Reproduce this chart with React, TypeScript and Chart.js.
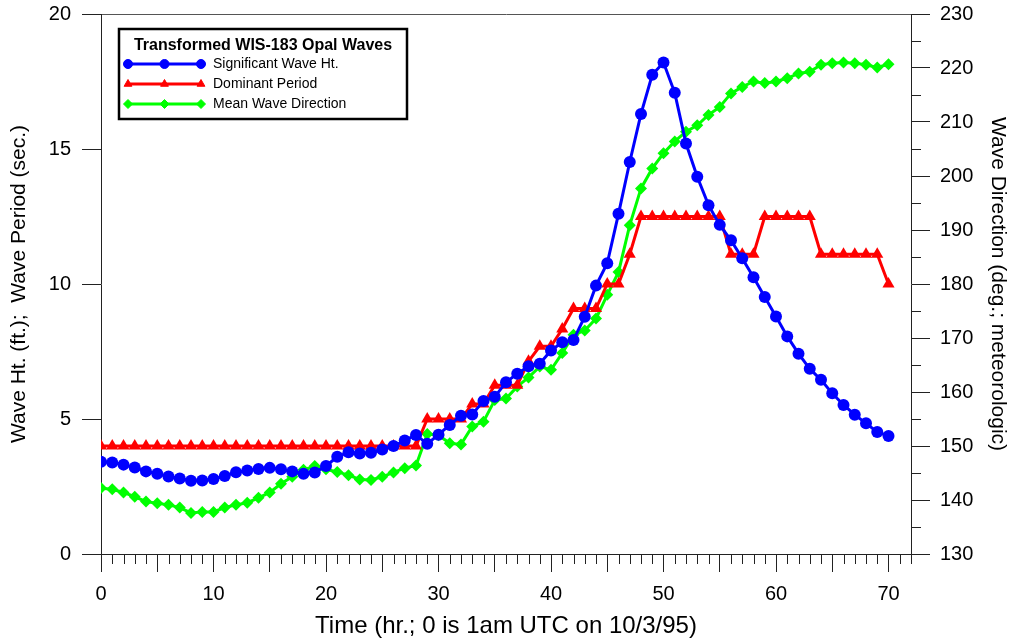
import { useEffect, useRef } from "react"
import { Chart, registerables } from "chart.js"
import { drawPoint } from "chart.js/helpers"

Chart.register(...registerables)

// hours since 1am UTC 10/3/95
const hours = [
  0, 1, 2, 3, 4, 5, 6, 7, 8, 9, 10, 11, 12, 13, 14, 15, 16, 17, 18, 19, 20,
  21, 22, 23, 24, 25, 26, 27, 28, 29, 30, 31, 32, 33, 34, 35, 36, 37, 38, 39, 40,
  41, 42, 43, 44, 45, 46, 47, 48, 49, 50, 51, 52, 53, 54, 55, 56, 57, 58, 59, 60,
  61, 62, 63, 64, 65, 66, 67, 68, 69, 70,
]

// significant wave height (ft.)
const waveHeight = [
  3.42, 3.39, 3.31, 3.2, 3.06, 2.97, 2.87, 2.8, 2.71, 2.72, 2.78,
  2.89, 3.03, 3.09, 3.15, 3.19, 3.14, 3.06, 2.97, 3.02, 3.26,
  3.6, 3.77, 3.72, 3.75, 3.87, 4.0, 4.2, 4.41, 4.08, 4.42,
  4.78, 5.12, 5.17, 5.67, 5.82, 6.36, 6.68, 6.95, 7.05, 7.54,
  7.84, 7.93, 8.79, 9.94, 10.77, 12.6, 14.52, 16.3, 17.75, 18.2,
  17.08, 15.2, 13.97, 12.92, 12.19, 11.62, 10.95, 10.25, 9.52, 8.8,
  8.06, 7.42, 6.86, 6.45, 5.95, 5.52, 5.16, 4.84, 4.52, 4.37,
]

// dominant period (sec.)
const dominantPeriod = [
  4.0, 4.0, 4.0, 4.0, 4.0, 4.0, 4.0, 4.0, 4.0, 4.0, 4.0,
  4.0, 4.0, 4.0, 4.0, 4.0, 4.0, 4.0, 4.0, 4.0, 4.0,
  4.0, 4.0, 4.0, 4.0, 4.0, 4.0, 4.0, 4.0, 5.0, 5.0,
  5.0, 5.0, 5.56, 5.56, 6.25, 6.25, 6.25, 7.14, 7.69, 7.69,
  8.33, 9.09, 9.09, 9.09, 10.0, 10.0, 11.1, 12.5, 12.5, 12.5,
  12.5, 12.5, 12.5, 12.5, 12.5, 11.1, 11.1, 11.1, 12.5, 12.5,
  12.5, 12.5, 12.5, 11.1, 11.1, 11.1, 11.1, 11.1, 11.1, 10.0,
]

// mean wave direction (deg., meteorologic)
const waveDirection = [
  142.2, 142.0, 141.4, 140.6, 139.7, 139.4, 139.1, 138.6, 137.6, 137.8, 137.8,
  138.6, 139.1, 139.5, 140.4, 141.4, 143.0, 144.3, 145.6, 146.3, 145.7,
  145.2, 144.6, 143.8, 143.7, 144.3, 145.1, 145.9, 146.4, 152.2, 152.0,
  150.5, 150.3, 153.6, 154.5, 158.5, 158.8, 161.0, 162.7, 164.7, 164.1,
  167.2, 170.6, 171.4, 173.6, 178.0, 182.2, 190.9, 197.7, 201.4, 204.2,
  206.4, 208.2, 209.4, 211.3, 212.8, 215.3, 216.5, 217.5, 217.2, 217.5,
  218.1, 219.0, 219.3, 220.6, 220.9, 221.0, 220.9, 220.6, 220.1, 220.7,
]

const seriesNames = ["Significant Wave Ht.", "Dominant Period", "Mean Wave Direction"]
const legendTitle = "Transformed WIS-183 Opal Waves"
const xTitle = "Time (hr.; 0 is 1am UTC on 10/3/95)"
const leftTitle = "Wave Ht. (ft.);  Wave Period (sec.)"
const rightTitle = "Wave Direction (deg.; meteorologic)"

const FONT = "'Liberation Sans', Arial, Helvetica, sans-serif"
const AXIS = "#222"
const TOPLINE = "#555"

// short minor ticks for the time axis and the direction axis
const minorTicks = {
  id: "minorTicks",
  afterDraw(chart: any) {
    const { ctx } = chart
    const xs = chart.scales.x
    const ys = chart.scales.y1
    ctx.save()
    ctx.strokeStyle = AXIS
    ctx.lineWidth = 1
    ctx.beginPath()
    xs.ticks.forEach((t: any) => {
      if (t.value % 5 === 0) return
      const px = Math.round(xs.getPixelForValue(t.value)) + 0.5
      ctx.moveTo(px, xs.top)
      ctx.lineTo(px, xs.top + 10)
    })
    ys.ticks.forEach((t: any) => {
      if (t.value % 10 === 0) return
      const py = Math.round(ys.getPixelForValue(t.value)) + 0.5
      ctx.moveTo(ys.left, py)
      ctx.lineTo(ys.left + 10, py)
    })
    ctx.stroke()
    ctx.restore()
  },
}

// boxed legend with a bold title, drawn inside the plot
const boxLegend = {
  id: "boxLegend",
  afterDraw(chart: any) {
    const { ctx } = chart
    const left = 119
    const top = 29
    const w = 288
    const h = 90
    ctx.save()
    ctx.fillStyle = "#fff"
    ctx.fillRect(left, top, w, h)
    ctx.lineWidth = 2.5
    ctx.strokeStyle = "#000"
    ctx.strokeRect(left, top, w, h)

    ctx.fillStyle = "#000"
    ctx.font = `bold 16px ${FONT}`
    ctx.textAlign = "center"
    ctx.textBaseline = "middle"
    ctx.fillText(legendTitle, left + w / 2, top + 17)

    chart.data.datasets.forEach((ds: any, i: number) => {
      const cy = top + 35 + i * 20
      ctx.strokeStyle = ds.borderColor
      ctx.fillStyle = ds.backgroundColor
      ctx.lineWidth = 3
      ctx.beginPath()
      ctx.moveTo(128, cy)
      ctx.lineTo(201, cy)
      ctx.stroke()
      ctx.lineWidth = 1
      ;[128, 164.5, 201].forEach((mx) => {
        drawPoint(ctx, { pointStyle: ds.pointStyle, radius: 4.5, rotation: 0, borderWidth: 1 }, mx, cy)
      })
      ctx.fillStyle = "#000"
      ctx.font = `14px ${FONT}`
      ctx.textAlign = "left"
      ctx.fillText(ds.label, 213, cy)
    })
    ctx.restore()
  },
}

export default function App() {
  const chartRef = useRef<HTMLCanvasElement>(null)
  const chartInstance = useRef<Chart | null>(null)

  useEffect(() => {
    if (!chartRef.current) return
    if (chartInstance.current) chartInstance.current.destroy()
    const ctx = chartRef.current.getContext("2d")
    if (!ctx) return

    const tickFont = { family: FONT, size: 20 }

    chartInstance.current = new Chart(ctx, {
      type: "line",
      data: {
        datasets: [
          {
            label: seriesNames[0],
            data: hours.map((h, i) => ({ x: h, y: waveHeight[i] })),
            yAxisID: "y",
            borderColor: "#0000ff",
            backgroundColor: "#0000ff",
            borderWidth: 3,
            pointStyle: "circle",
            pointRadius: 6,
            pointBorderWidth: 0,
          },
          {
            label: seriesNames[1],
            data: hours.map((h, i) => ({ x: h, y: dominantPeriod[i] })),
            yAxisID: "y",
            borderColor: "#ff0000",
            backgroundColor: "#ff0000",
            borderWidth: 3,
            pointStyle: "triangle",
            pointRadius: 7,
            pointBorderWidth: 0,
          },
          {
            label: seriesNames[2],
            data: hours.map((h, i) => ({ x: h, y: waveDirection[i] })),
            yAxisID: "y1",
            borderColor: "#00ff00",
            backgroundColor: "#00ff00",
            borderWidth: 3,
            pointStyle: "rectRot",
            pointRadius: 6,
            pointBorderWidth: 0,
          },
        ],
      },
      options: {
        animation: false,
        responsive: true,
        maintainAspectRatio: false,
        layout: { padding: { top: 14, left: 0, right: 0, bottom: 0 } },
        plugins: {
          legend: { display: false },
          tooltip: { enabled: false },
        },
        scales: {
          x: {
            type: "linear",
            position: "bottom",
            min: 0,
            max: 72,
            afterFit: (s: any) => {
              s.height = 90
              s.paddingLeft = 0
              s.paddingRight = 0
            },
            border: { color: AXIS, width: 1 },
            grid: {
              drawOnChartArea: false,
              tickLength: 18,
              tickColor: (c: any) => (c.tick && c.tick.value % 5 === 0 ? AXIS : "transparent"),
            },
            ticks: {
              stepSize: 1,
              autoSkip: false,
              maxRotation: 0,
              padding: 10,
              color: "#000",
              font: tickFont,
              callback: (v: any) => (v % 10 === 0 && v <= 70 ? String(v) : ""),
            },
            title: {
              display: true,
              text: xTitle,
              color: "#000",
              font: { family: FONT, size: 24 },
              padding: { top: 0, bottom: 3 },
            },
          },
          y: {
            type: "linear",
            position: "left",
            min: 0,
            max: 20,
            afterFit: (s: any) => {
              s.width = 101
              s.paddingTop = 0
              s.paddingBottom = 0
            },
            border: { color: AXIS, width: 1 },
            grid: {
              drawOnChartArea: true,
              color: (c: any) => (c.tick && c.tick.value === 20 ? TOPLINE : "transparent"),
              tickColor: AXIS,
              tickLength: 19,
            },
            ticks: { stepSize: 5, padding: 11, color: "#000", font: tickFont },
            title: {
              display: true,
              text: leftTitle,
              color: "#000",
              font: { family: FONT, size: 21 },
              padding: { top: 7, bottom: 0 },
            },
          },
          y1: {
            type: "linear",
            position: "right",
            min: 130,
            max: 230,
            afterFit: (s: any) => {
              s.width = 102
              s.paddingTop = 0
              s.paddingBottom = 0
            },
            border: { color: AXIS, width: 1 },
            grid: {
              drawOnChartArea: false,
              tickLength: 19,
              tickColor: (c: any) => (c.tick && c.tick.value % 10 === 0 ? AXIS : "transparent"),
            },
            ticks: {
              stepSize: 5,
              autoSkip: false,
              padding: 10,
              color: "#000",
              font: tickFont,
              callback: (v: any) => (v % 10 === 0 ? String(v) : ""),
            },
            title: {
              display: true,
              text: rightTitle,
              color: "#000",
              font: { family: FONT, size: 21 },
              padding: { top: 3, bottom: 0 },
            },
          },
        },
      },
      plugins: [minorTicks, boxLegend],
    })

    return () => {
      if (chartInstance.current) {
        chartInstance.current.destroy()
        chartInstance.current = null
      }
    }
  }, [])

  return (
    <div style={{ position: "absolute", left: 0, top: 0, width: 1013, height: 644, background: "#fff" }}>
      <canvas ref={chartRef} />
    </div>
  )
}
